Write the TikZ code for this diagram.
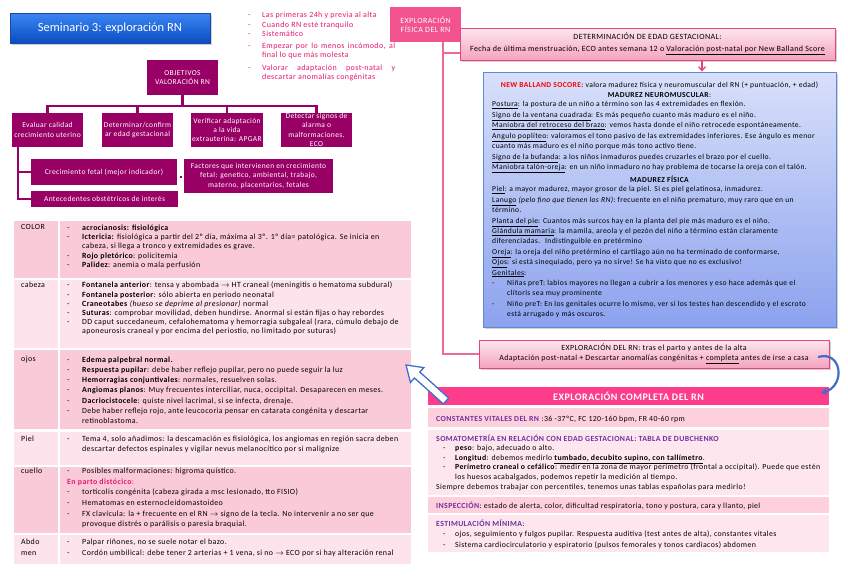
\documentclass[tikz,border=0pt]{standalone}
\usepackage{fontspec}
\setmainfont{Carlito}[LetterSpace=5]
\newfontfamily\plainf{Carlito}
\usetikzlibrary{calc,shadows,arrows.meta}
\definecolor{plum}{HTML}{990066}
\definecolor{hot}{HTML}{F2538E}
\definecolor{hdrpink}{HTML}{FF3B8B}
\definecolor{mag}{HTML}{E5176F}
\definecolor{rowd}{HTML}{FBCAD8}
\definecolor{rowl}{HTML}{FDE3EB}
\definecolor{rrowd}{HTML}{FDD0DC}
\definecolor{rrowl}{HTML}{FEE6EE}
\definecolor{purp}{HTML}{7030A0}
\definecolor{lnk}{HTML}{F0679C}
\definecolor{pkt}{HTML}{FDE6EE}
\definecolor{pkb}{HTML}{F5A3C0}
\definecolor{pkd}{HTML}{E8437F}
\definecolor{blt}{HTML}{D8E0FA}
\definecolor{blb}{HTML}{8CA2EE}
\definecolor{bld}{HTML}{5B8BD8}
\definecolor{arb}{HTML}{3F6FC9}
\definecolor{ttop}{HTML}{3C86F2}
\definecolor{tbot}{HTML}{0A4CC4}
\definecolor{tdr}{HTML}{1A4A9E}
\definecolor{redt}{HTML}{FF0000}
\newcommand\fs[2]{\fontsize{#1}{#2}\selectfont}
\newcommand\bu{\makebox[15pt][l]{-}}
\newcommand\ct{\hspace*{15pt}}
\newcommand\tb{\makebox[14pt][l]{-}}
\newcommand\rb{\hspace*{7pt}\makebox[12pt][l]{-}}
\newcommand\rc{\hspace*{19pt}}
\begin{document}
\begin{tikzpicture}[x=1pt,y=-1pt]
\tikzset{
  treebox/.style={fill=plum, text=white, align=center, inner sep=0pt, font=\fs{7.5}{9.4}},
  treeline/.style={draw=plum, line width=2.4pt},
  txt/.style={anchor=north west, inner sep=0pt, align=left},
  pinkline/.style={draw=lnk, line width=1.3pt},
  pinkbox/.style={top color=pkt, bottom color=pkb, draw=pkd, line width=0.8pt, align=center, inner sep=0pt,
     drop shadow={opacity=0.35, shadow xshift=1.5pt, shadow yshift=-2pt}},
}
\useasboundingbox (0,0) rectangle (848,587);
\fill[white] (0,0) rectangle (848,587);

% ---------- title
\node[top color=ttop, bottom color=tbot, draw=tdr, line width=0.6pt, text=white, font=\plainf\fs{12.5}{14},
  minimum width=200, minimum height=30, inner sep=0pt,
  drop shadow={opacity=0.35, shadow xshift=1.5pt, shadow yshift=-2pt}] (title) at (110,28) {Seminario 3: exploración RN};

% ---------- top bullets
\node[txt, text=mag, font=\fs{8}{9.2}] (tips) at (248,12.2) {%
\tb Las primeras 24h y previa al alta\\
\tb Cuando RN esté tranquilo\\
\tb Sistemático\\[3.2pt]
\tb \makebox[133pt][s]{Empezar por lo menos incómodo, al}\\
\hspace*{14pt}final lo que más molesta\\[3.2pt]
\tb \makebox[133pt][s]{Valorar adaptación post-natal y}\\
\hspace*{14pt}descartar anomalías congénitas};

% ---------- objectives tree
\node[treebox, minimum width=71, minimum height=35] (obj) at (182.5,77.5) {OBJETIVOS\\VALORACIÓN RN};
\node[treebox, minimum width=71, minimum height=34] (ev) at (47.5,130) {Evaluar calidad\\crecimiento uterino};
\node[treebox, minimum width=71, minimum height=34] (dt) at (137.5,130) {Determinar/confirm\\ar edad gestacional};
\node[treebox, minimum width=72, minimum height=34] (ve) at (227,130) {Verificar adaptación\\a la vida\\extrauterina: APGAR};
\node[treebox, minimum width=71, minimum height=34] (ds) at (316.5,130) {Detectar signos de\\alarma o\\malformaciones.\\ECO};
\node[treebox, minimum width=146, minimum height=26] (cre) at (104,172) {Crecimiento fetal (mejor indicador)};
\node[treebox, minimum width=147, minimum height=16] (ant) at (104.5,199) {Antecedentes obstétricos de interés};
\node[treebox, minimum width=149, minimum height=34] (fac) at (258.5,176) {Factores que intervienen en crecimiento\\fetal: genetico, ambiental, trabajo,\\materno, placentarios, fetales};
\node[fill=plum, minimum size=2.5pt, inner sep=0pt] (dot) at (181,177) {};
\coordinate (bus) at (182.5,106);
\draw[treeline] (obj.south) -- (bus);
\foreach \n in {ev,dt,ve,ds} \draw[treeline] (\n.north) |- (bus);
\coordinate (lb) at ([xshift=6pt]ev.south west);
\draw[treeline] (lb) |- (cre.west);
\draw[treeline] (lb) |- (ant.west);

% ---------- left table
\fill[rowd] (14,221) rectangle (411,278);
\fill[rowl] (14,280) rectangle (411,348);
\fill[rowd] (14,350) rectangle (411,429);
\fill[rowl] (14,432) rectangle (411,465);
\fill[rowd] (14,467) rectangle (411,533);
\fill[rowl] (14,535) rectangle (411,564);
\draw[white, line width=2pt] (59,221) -- (59,564);

\node[txt, font=\fs{7.9}{9.4}] (lcolor) at (21,224.3) {COLOR};
\node[txt, font=\fs{7.9}{9.4}] (tcolor) at (67,224.3) {%
\bu\textbf{acrocianosis: fisiológica}\\
\bu\textbf{Ictericia:} fisiológica a partir del 2º día, máxima al 3º. 1º día= patológica. Se inicia en\\
\ct cabeza, si llega a tronco y extremidades es grave.\\
\bu\textbf{Rojo pletórico}: policitemia\\
\bu\textbf{Palidez}: anemia o mala perfusión};

\node[txt, font=\fs{7.9}{9.1}] (lcab) at (21,282) {cabeza};
\node[txt, font=\fs{7.9}{9.1}] (tcab) at (67,282) {%
\bu\textbf{Fontanela anterior}: tensa y abombada $\rightarrow$ HT craneal (meningitis o hematoma subdural)\\
\bu\textbf{Fontanela posterior}: sólo abierta en periodo neonatal\\
\bu\textbf{Craneotabes} \textit{(hueso se deprime al presionar)} normal\\
\bu\textbf{Suturas}: comprobar movilidad, deben hundirse. Anormal si están fijas o hay rebordes\\
\bu DD caput succedaneum, cefalohematoma y hemorragia subgaleal (rara, cúmulo debajo de\\
\ct aponeurosis craneal y por encima del periostio, no limitado por suturas)};

\node[txt, font=\fs{7.9}{10.3}] (lojos) at (21,356.3) {ojos};
\node[txt, font=\fs{7.9}{10.3}] (tojos) at (67,356.3) {%
\bu\textbf{Edema palpebral normal.}\\
\bu\textbf{Respuesta pupilar}: debe haber reflejo pupilar, pero no puede seguir la luz\\
\bu\textbf{Hemorragias conjuntivales}: normales, resuelven solas.\\
\bu\textbf{Angiomas planos}: Muy frecuentes interciliar, nuca, occipital. Desaparecen en meses.\\
\bu\textbf{Dacriocistocele}: quiste nivel lacrimal, si se infecta, drenaje.\\
\bu Debe haber reflejo rojo, ante leucocoria pensar en catarata congénita y descartar\\
\ct retinoblastoma.};

\node[txt, font=\fs{7.9}{10.7}] (lpiel) at (21,435.6) {Piel};
\node[txt, font=\fs{7.9}{10.7}] (tpiel) at (67,435.6) {%
\bu Tema 4, solo añadimos: la descamación es fisiológica, los angiomas en región sacra deben\\
\ct descartar defectos espinales y vigilar nevus melanocítico por si malignize};

\node[txt, font=\fs{7.9}{10.6}] (lcue) at (21,468) {cuello};
\node[txt, font=\fs{7.9}{10.6}] (tcue) at (67,468) {%
\bu Posibles malformaciones: higroma quístico.\\
\textcolor{mag}{\textbf{En parto distócico}:}\\
\bu tortícolis congénita (cabeza girada a msc lesionado, tto FISIO)\\
\bu Hematomas en esternocleidomastoideo\\
\bu FX clavícula: la + frecuente en el RN $\rightarrow$ signo de la tecla. No intervenir a no ser que\\
\ct provoque distrés o parálisis o paresia braquial.};

\node[txt, font=\fs{7.9}{11}] (labd) at (21,538.6) {Abdo\\men};
\node[txt, font=\fs{7.9}{11}] (tabd) at (67,538.6) {%
\bu Palpar riñones, no se suele notar el bazo.\\
\bu Cordón umbilical: debe tener 2 arterias + 1 vena, si no $\rightarrow$ ECO por si hay alteración renal};

% ---------- right column
\node[fill=hot, text=white, font=\fs{8}{9.5}, align=center, inner sep=0pt,
  minimum width=71, minimum height=35] (efis) at (425.5,24.5) {EXPLORACIÓN\\FÍSICA DEL RN};

\node[pinkbox, font=\fs{8}{12}, minimum width=375, minimum height=32] (det) at (647.5,44)
 {DETERMINACIÓN DE EDAD GESTACIONAL:\\Fecha de última menstruación, ECO antes semana 12 o \underline{Valoración post-natal por New Balland Score}};

\node[top color=blt, bottom color=blb, draw=bld, line width=0.9pt, minimum width=353, minimum height=255, inner sep=0pt,
  drop shadow={opacity=0.35, shadow xshift=1.5pt, shadow yshift=-2pt}] (blue) at (659.5,199.5) {};

\node[pinkbox, font=\fs{7.9}{10}, minimum width=350, minimum height=28] (exprn) at (654,354)
 {EXPLORACIÓN DEL RN: tras el parto y antes de la alta\\Adaptación post-natal + Descartar anomalías congénitas + \underline{completa} antes de irse a casa};

\coordinate (ef1) at (443,42);
\coordinate (ef2) at (443,53);
\draw[pinkline] (ef1) |- (exprn.west);
\draw[pinkline] (ef2) -- (ef2 -| det.west);
\coordinate (ax) at (702,0);
\draw[draw=pkd, line width=1.2pt, -{Straight Barb[length=4pt,width=7pt]}] (det.south -| ax) -- (blue.north -| ax);

% blue box text
\node[inner sep=0pt, align=center, anchor=north, font=\fs{7.6}{10.4}] (bb1) at (659.5,81.4)
 {\textcolor{redt}{\textbf{NEW BALLAND SOCORE}}: valora madurez física y neuromuscular del RN (+ puntuación, + edad)\\
  \textbf{MADUREZ NEUROMUSCULAR}:};
\node[txt, font=\fs{7.6}{10.45}] (bb2) at (492,101.4) {%
\underline{Postura}: la postura de un niño a término son las 4 extremidades en flexión.\\
\underline{Signo de la ventana cuadrada}: Es más pequeño cuanto más maduro es el niño.\\
\underline{Maniobra del retroceso del brazo}: vemos hasta donde el niño retrocede espontáneamente.\\
\underline{Angulo poplíteo}: valoramos el tono pasivo de las extremidades inferiores. Ese ángulo es menor\\
cuanto más maduro es el niño porque más tono activo tiene.\\
\underline{Signo de la bufanda}: a los niños inmaduros puedes cruzarles el brazo por el cuello.\\
\underline{Maniobra talón-oreja}: en un niño inmaduro no hay problema de tocarse la oreja con el talón.};
\node[inner sep=0pt, anchor=north, font=\bfseries\fs{7.6}{10.4}] (bb3) at (659.5,176.4) {MADUREZ FÍSICA};
\node[txt, font=\fs{7.6}{10.4}] (bb4) at (492,186.4) {%
\underline{Piel}: a mayor madurez, mayor grosor de la piel. Si es piel gelatinosa, inmadurez.\\
\underline{Lanugo} \textit{(pelo fino que tienen los RN)}: frecuente en el niño prematuro, muy raro que en un\\
término.\\
\underline{Planta del pie}: Cuantos más surcos hay en la planta del pie más maduro es el niño.\\
\underline{Glándula mamaria}: la mamila, areola y el pezón del niño a término están claramente\\
diferenciadas. \ Indistinguible en pretérmino\\
\underline{Oreja}: la oreja del niño pretérmino el cartílago aún no ha terminado de conformarse,\\
\underline{Ojos}: si está sinequiado, pero ya no sirve! Se ha visto que no es exclusivo!\\
\underline{Genitales}:\\
\bu Niñas preT: labios mayores no llegan a cubrir a los menores y eso hace además que el\\
\ct clítoris sea muy prominente\\
\bu Niño preT: En los genitales ocurre lo mismo, ver si los testes han descendido y el escroto\\
\ct está arrugado y más oscuros.};

% ---------- complete exploration
\node[fill=hdrpink, text=white, font=\bfseries\fs{10}{11}, minimum width=401, minimum height=18, inner sep=0pt] (hdr) at (628.5,396) {EXPLORACIÓN COMPLETA DEL RN};
\fill[rrowd] (428,408) rectangle (829,427);
\fill[rrowl] (428,430) rectangle (829,495);
\fill[rrowd] (428,497) rectangle (829,513);
\fill[rrowl] (428,515) rectangle (829,552);

\node[txt, font=\fs{7.8}{10}] (const) at (436,416.3)
 {\textcolor{purp}{\textbf{CONSTANTES VITALES DEL RN}} :36 -37ºC, FC 120-160 bpm, FR 40-60 rpm};
\node[txt, font=\fs{7.8}{9.6}] (soma) at (436,434.3) {%
\textcolor{purp}{\textbf{SOMATOMETRÍA EN RELACIÓN CON EDAD GESTACIONAL: TABLA DE DUBCHENKO}}\\
\rb\textbf{peso}: bajo, adecuado o alto.\\
\rb\textbf{Longitud}: debemos medirlo \underline{\textbf{tumbado, decubito supino, con tallímetro}}.\\
\rb\textbf{Perímetro craneal o cefálico}: medir en la zona de mayor perímetro (frontal a occipital). Puede que estén\\
\rc los huesos acabalgados, podemos repetir la medición al tiempo.\\
Siempre debemos trabajar con percentiles, tenemos unas tablas españolas para medirlo!};
\node[txt, font=\fs{7.8}{10}] (insp) at (436,501.3)
 {\textcolor{purp}{\textbf{INSPECCIÓN}}: estado de alerta, color, dificultad respiratoria, tono y postura, cara y llanto, piel};
\node[txt, font=\fs{7.8}{10.5}] (estim) at (436,519.3) {%
\textcolor{purp}{\textbf{ESTIMULACIÓN MÍNIMA}}:\\
\rb ojos, seguimiento y fulgos pupilar. Respuesta auditiva (test antes de alta), constantes vitales\\
\rb Sistema cardiocirculatorio y espiratorio (pulsos femorales y tonos cardiacos) abdomen};

% ---------- curved blue arrow
\coordinate (cs) at (818,357);
\coordinate (ce) at (821,393);
\draw[draw=arb, line width=2.2pt, -{Stealth[length=6pt,width=7pt]}] (cs) .. controls (842,350) and (846,386) .. (ce);

% ---------- hollow arrow
\coordinate (hat) at (446,401);
\coordinate (hah) at (406,365);
\coordinate (hab) at ($(hah)!15pt!(hat)$);
\filldraw[fill=white, draw=arb, line width=1.3pt, line join=miter]
  ($(hat)!4pt!90:(hah)$) -- ($(hab)!4pt!90:(hah)$) -- ($(hab)!10pt!90:(hah)$) -- (hah)
  -- ($(hab)!10pt!-90:(hah)$) -- ($(hab)!4pt!-90:(hah)$) -- ($(hat)!4pt!-90:(hah)$) -- cycle;
\end{tikzpicture}
\end{document}
